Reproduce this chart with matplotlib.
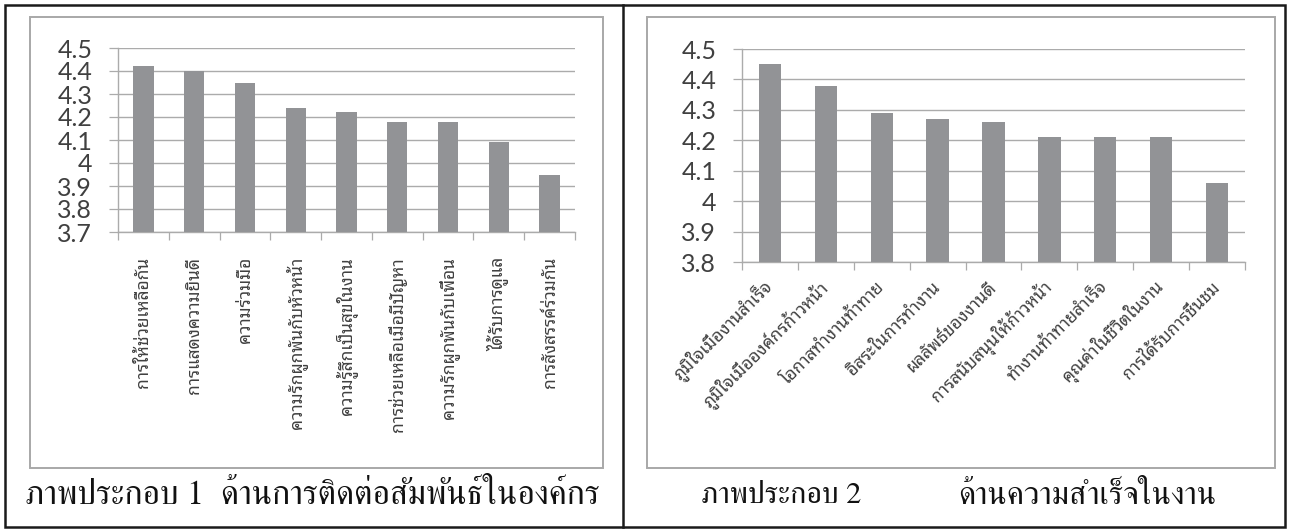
import matplotlib
matplotlib.use("Agg")
import matplotlib.pyplot as plt
from matplotlib.patches import Rectangle
from matplotlib.lines import Line2D
import numpy as np

# ---------------- data ----------------
cats1 = ["การให้ช่วยเหลือกัน", "การแสดงความยินดี", "ความร่วมมือ",
         "ความรักผูกพันกับหัวหน้า", "ความรู้สึกเป็นสุขในงาน",
         "การช่วยเหลือเมื่อมีปัญหา", "ความรักผูกพันกับเพื่อน",
         "ได้รับการดูแล", "การสังสรรค์ร่วมกัน"]
vals1 = [4.42, 4.40, 4.35, 4.24, 4.22, 4.18, 4.18, 4.09, 3.95]
yticks1 = [3.7, 3.8, 3.9, 4.0, 4.1, 4.2, 4.3, 4.4, 4.5]
ylabels1 = ["3.7", "3.8", "3.9", "4", "4.1", "4.2", "4.3", "4.4", "4.5"]

cats2 = ["ภูมิใจเมื่องานสำเร็จ", "ภูมิใจเมื่อองค์กรก้าวหน้า", "โอกาสทำงานท้าทาย",
         "อิสระในการทำงาน", "ผลลัพธ์ของงานดี", "การสนับสนุนให้ก้าวหน้า",
         "ทำงานท้าทายสำเร็จ", "คุณค่าในชีวิตในงาน", "การได้รับการชื่นชม"]
vals2 = [4.45, 4.38, 4.29, 4.27, 4.26, 4.21, 4.21, 4.21, 4.06]
yticks2 = [3.8, 3.9, 4.0, 4.1, 4.2, 4.3, 4.4, 4.5]
ylabels2 = ["3.8", "3.9", "4", "4.1", "4.2", "4.3", "4.4", "4.5"]

caption1 = "ภาพประกอบ 1  ด้านการติดต่อสัมพันธ์ในองค์กร"
caption2a = "ภาพประกอบ 2"
caption2b = "ด้านความสำเร็จในงาน"

# ---------------- style ----------------
W, H = 1289, 531
fig = plt.figure(figsize=(W / 100, H / 100), dpi=100)
fig.patch.set_facecolor("white")

NUM_FONT = ["Lato", "DejaVu Sans"]
THAI_LABEL_FONT = ["Noto Sans Thai Looped", "Loma", "DejaVu Sans"]
CAPTION_FONT = ["FreeSerif", "Noto Serif Thai", "DejaVu Serif"]
BAR = "#929396"
GRID = "#ababab"
TXT = "#404040"


def px_rect(x0, y0, x1, y1):
    """convert pixel box (top-left origin) to figure fraction rect"""
    return [x0 / W, 1 - y1 / H, (x1 - x0) / W, (y1 - y0) / H]


def fig_line(x0, y0, x1, y1, color, lw):
    fig.add_artist(Line2D([x0 / W, x1 / W], [1 - y0 / H, 1 - y1 / H],
                          transform=fig.transFigure, color=color, lw=lw,
                          solid_capstyle="projecting"))


def fig_box(x0, y0, x1, y1, color, lw):
    fig.add_artist(Rectangle((x0 / W, 1 - y1 / H), (x1 - x0) / W, (y1 - y0) / H,
                             transform=fig.transFigure, fill=False,
                             edgecolor=color, lw=lw))


# outer frame & divider
fig_box(5, 5, 1285, 527, "#1a1a1a", 1.8)
fig_line(623, 5, 623, 527, "#1a1a1a", 1.8)
# inner chart-area boxes
fig_box(30, 17, 603, 468, "#a8a8a8", 1.4)
fig_box(647, 17, 1275, 468, "#a8a8a8", 1.4)


def make_axes(rect, cats, vals, yticks, ylabels, rot):
    ax = fig.add_axes(rect)
    x = np.arange(len(cats))
    ax.bar(x, vals, width=0.4, color=BAR, zorder=3)
    ax.set_xlim(-0.5, len(cats) - 0.5)
    ax.set_ylim(yticks[0], yticks[-1])
    ax.set_yticks(yticks)
    ax.set_yticklabels(ylabels, fontsize=18, color=TXT, family=NUM_FONT)
    ax.yaxis.grid(True, color=GRID, lw=1.0, zorder=0)
    ax.tick_params(axis="y", length=6.5, width=0.9, color=GRID, pad=12)
    for s in ["top", "right"]:
        ax.spines[s].set_visible(False)
    for s in ["left", "bottom"]:
        ax.spines[s].set_color(GRID)
        ax.spines[s].set_linewidth(1.0)
    ax.set_xticks(np.arange(len(cats) + 1) - 0.5, minor=True)
    ax.tick_params(axis="x", which="minor", length=6, width=0.9, color=GRID)
    ax.set_xticks(x)
    ax.tick_params(axis="x", which="major", length=0)
    if rot == 90:
        ax.set_xticklabels(cats, rotation=90, ha="center", va="top",
                           fontsize=12.5, color=TXT, family=THAI_LABEL_FONT)
        ax.tick_params(axis="x", which="major", pad=18)
    else:
        ax.set_xticklabels(cats, rotation=45, ha="right", va="center",
                           rotation_mode="anchor", fontsize=12.5, color=TXT,
                           family=THAI_LABEL_FONT)
        ax.tick_params(axis="x", which="major", pad=16)
    ax.set_facecolor("none")
    return ax


ax1 = make_axes(px_rect(118, 48, 575, 232), cats1, vals1, yticks1, ylabels1, 90)
ax2 = make_axes(px_rect(742, 49, 1245, 262), cats2, vals2, yticks2, ylabels2, 45)

# captions
cap_y = 1 - 496 / H
t1 = fig.text(25 / W, cap_y, caption1, ha="left", va="center", fontsize=20,
              family=CAPTION_FONT, color="#111111")
t2 = fig.text(701 / W, cap_y, caption2a, ha="left", va="center", fontsize=20,
              family=CAPTION_FONT, color="#111111")
t3 = fig.text(958 / W, cap_y, caption2b, ha="left", va="center", fontsize=20,
              family=CAPTION_FONT, color="#111111")

# fit caption sizes to target widths
fig.canvas.draw()
r = fig.canvas.get_renderer()
for t, target in [(t1, 575), (t2, 160), (t3, 257)]:
    w = t.get_window_extent(r).width
    t.set_fontsize(20 * target / w)

fig.savefig("out.png", dpi=100, facecolor="white")
